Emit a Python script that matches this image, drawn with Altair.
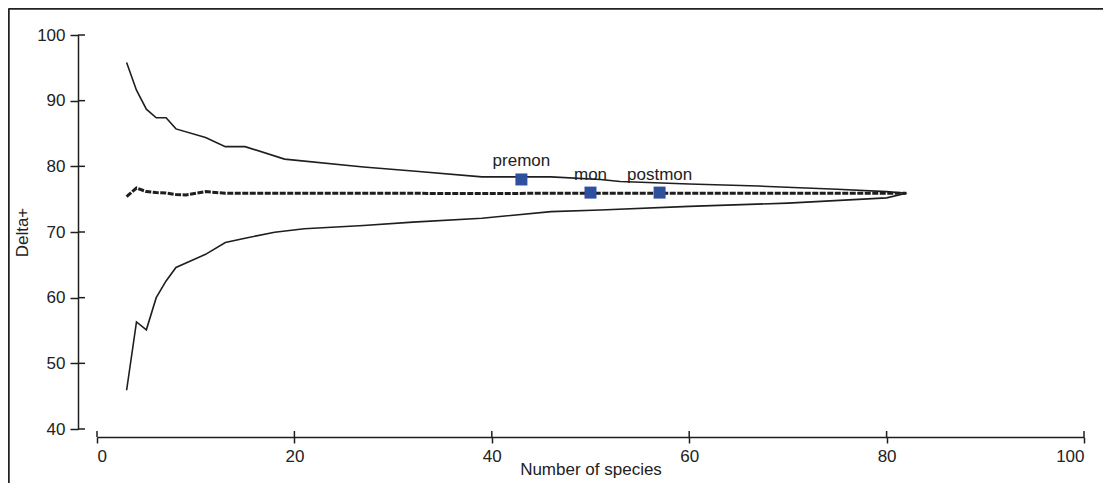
import altair as alt
import pandas as pd

# ---- data ----
upper_x = [3, 4, 5, 6, 7, 8, 11, 13, 15, 19, 27, 32, 39, 46, 51, 53, 60, 67, 75, 80, 82]
upper_y = [95.8, 91.6, 88.7, 87.4, 87.4, 85.7, 84.4, 83.0, 83.0, 81.1, 79.9, 79.3, 78.4, 78.4,
           78.0, 77.7, 77.3, 77.0, 76.5, 76.15, 75.9]

lower_x = [3, 4, 5, 6, 7, 8, 11, 13, 15, 18, 21, 27, 32, 39, 46, 51, 60, 70, 80, 82]
lower_y = [45.9, 56.3, 55.1, 60.0, 62.55, 64.6, 66.6, 68.4, 69.05, 69.97, 70.5, 71.0, 71.5,
           72.1, 73.1, 73.35, 73.9, 74.4, 75.2, 75.9]

mean_x = [3, 4, 5, 6, 7, 8, 9, 11, 13, 20, 30, 39, 45, 60, 82]
mean_y = [75.4, 76.7, 76.15, 76.0, 75.95, 75.7, 75.65, 76.15, 75.9, 75.9, 75.9, 75.85, 75.9,
          75.9, 75.9]

sample_names = ["premon", "mon", "postmon"]
sample_x = [43, 50, 57]
sample_y = [78.0, 76.0, 76.0]

x_ticks = [0, 20, 40, 60, 80, 100]
y_ticks = [40, 50, 60, 70, 80, 90, 100]

W, H = 987, 394
FONT = "Liberation Sans"
INK = "#1e1e1e"

upper_df = pd.DataFrame({"x": upper_x, "y": upper_y})
lower_df = pd.DataFrame({"x": lower_x, "y": lower_y})
mean_df = pd.DataFrame({"x": mean_x, "y": mean_y})
pts_df = pd.DataFrame({"x": sample_x, "y": sample_y, "name": sample_names})
xt_df = pd.DataFrame({"x": x_ticks})
yt_df = pd.DataFrame({"y": y_ticks})

xscale = alt.Scale(domain=[0, 100], nice=False, zero=False)
yscale = alt.Scale(domain=[40, 100], nice=False, zero=False)

xaxis = alt.Axis(values=x_ticks, title="Number of species", offset=8, tickSize=6,
                 labelPadding=5, grid=False, titleY=37, titleBaseline="alphabetic")
yaxis = alt.Axis(values=y_ticks, title="Delta+", offset=19, tickSize=8,
                 labelPadding=5, grid=False, titleX=-56, titleBaseline="middle")

upper = alt.Chart(upper_df).mark_line(color=INK, strokeWidth=1.6).encode(
    x=alt.X("x:Q", scale=xscale, axis=xaxis),
    y=alt.Y("y:Q", scale=yscale, axis=yaxis),
)
lower = alt.Chart(lower_df).mark_line(color=INK, strokeWidth=1.6).encode(
    x=alt.X("x:Q", scale=xscale),
    y=alt.Y("y:Q", scale=yscale),
)
mean = alt.Chart(mean_df).mark_line(color=INK, strokeWidth=3, strokeDash=[6, 1.5]).encode(
    x=alt.X("x:Q", scale=xscale),
    y=alt.Y("y:Q", scale=yscale),
)
points = alt.Chart(pts_df).mark_square(color="#2f4f9f", size=144, opacity=1).encode(
    x=alt.X("x:Q", scale=xscale),
    y=alt.Y("y:Q", scale=yscale),
)
labels = alt.Chart(pts_df).mark_text(font=FONT, fontSize=17, color="#222222", dy=-13,
                                     baseline="alphabetic").encode(
    x=alt.X("x:Q", scale=xscale),
    y=alt.Y("y:Q", scale=yscale),
    text="name:N",
)

# inward half of the crossing tick marks
ytick_in = alt.Chart(yt_df).mark_rule(color=INK, strokeWidth=1.5).encode(
    y=alt.Y("y:Q", scale=yscale),
    x=alt.value(-19), x2=alt.value(-12),
)
xtick_in = alt.Chart(xt_df).mark_rule(color=INK, strokeWidth=1.5).encode(
    x=alt.X("x:Q", scale=xscale),
    y=alt.value(H + 8), y2=alt.value(H + 2),
)

# outer frame (top and left edges)
frame_top = alt.Chart(alt.Data(values=[{}])).mark_rule(color="#222222", strokeWidth=2.5).encode(
    x=alt.value(-88.5), x2=alt.value(W + 40), y=alt.value(-26.5),
)
frame_left = alt.Chart(alt.Data(values=[{}])).mark_rule(color="#222222", strokeWidth=2.5).encode(
    x=alt.value(-88.5), y=alt.value(-26.5), y2=alt.value(H + 70),
)

chart = alt.layer(
    frame_top, frame_left, ytick_in, xtick_in, upper, lower, mean, points, labels
).properties(
    width=W, height=H,
    autosize=alt.AutoSizeParams(type="none"),
    padding={"left": 89, "top": 27, "right": 19, "bottom": 54},
).configure_view(stroke=None).configure_axis(
    domainColor=INK, domainWidth=1.5, tickColor=INK, tickWidth=1.5,
    labelFont=FONT, labelFontSize=17, labelColor="#222222",
    titleFont=FONT, titleFontSize=17, titleColor="#222222", titleFontWeight="normal",
)

chart.save("out.html", embed_options={"renderer": "svg", "actions": False})
